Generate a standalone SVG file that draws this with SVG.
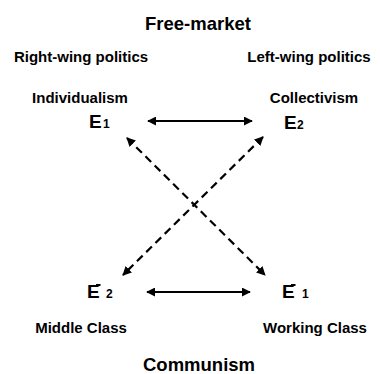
<svg xmlns="http://www.w3.org/2000/svg" width="380" height="374" viewBox="0 0 380 374">
<style>
text{font-family:"Liberation Sans",Arial,sans-serif;font-weight:bold;fill:#000}
.t{font-size:18.5px;text-anchor:middle}
.l{font-size:15px;text-anchor:middle}
.e{font-size:19px}
.s{font-size:12px}
.solid{stroke:#000;stroke-width:2;fill:none}
.dash{stroke:#000;stroke-width:2.2;fill:none;stroke-dasharray:8 5}
</style>
<defs>
<marker id="ah" viewBox="0 0 10 10" refX="9" refY="5" markerUnits="userSpaceOnUse" markerWidth="9" markerHeight="9" orient="auto-start-reverse">
<path d="M0,0 L10,5 L0,10 z" fill="#000"/>
</marker>
</defs>
<rect width="380" height="374" fill="#fff"/>
<g id="title-top"><text class="t" x="198" y="30">Free-market</text></g>
<g id="title-bottom"><text class="t" x="199" y="371">Communism</text></g>
<g id="node-E1">
<text class="l" x="81" y="62">Right-wing politics</text>
<text class="l" x="80" y="103">Individualism</text>
<text class="e" x="89" y="128">E<tspan class="s" x="103">1</tspan></text>
</g>
<g id="node-E2">
<text class="l" x="309" y="62">Left-wing politics</text>
<text class="l" x="314" y="103">Collectivism</text>
<text class="e" x="284" y="129">E<tspan class="s" x="297">2</tspan></text>
</g>
<g id="node-notE2">
<text class="e" x="87" y="298">E<tspan class="s" x="106">2</tspan></text>
<line x1="96" y1="285" x2="100.5" y2="285" stroke="#000" stroke-width="2"/>
<text class="l" x="81" y="333">Middle Class</text>
</g>
<g id="node-notE1">
<text class="e" x="282" y="298">E<tspan class="s" x="302">1</tspan></text>
<line x1="291" y1="285" x2="295.5" y2="285" stroke="#000" stroke-width="2"/>
<text class="l" x="315" y="333">Working Class</text>
</g>
<g id="connectors">
<line class="solid" x1="148" y1="121" x2="252" y2="121" marker-start="url(#ah)" marker-end="url(#ah)"/>
<line class="solid" x1="147" y1="292" x2="250" y2="292" marker-start="url(#ah)" marker-end="url(#ah)"/>
<line class="dash" x1="127" y1="138" x2="265" y2="275" marker-start="url(#ah)" marker-end="url(#ah)"/>
<line class="dash" x1="263" y1="137" x2="123" y2="275" marker-start="url(#ah)" marker-end="url(#ah)"/>
</g>
</svg>
